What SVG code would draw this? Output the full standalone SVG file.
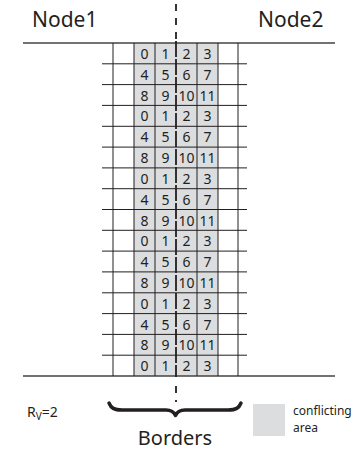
<svg xmlns="http://www.w3.org/2000/svg" width="364" height="452" viewBox="0 0 364 452">
<style>
.t{font-family:"Noto Sans","Open Sans",sans-serif;fill:#231f20}
.n{font-size:14px;text-anchor:middle}
.g{stroke:#231f20;stroke-width:1;fill:none}
.o{stroke:#444;stroke-width:1.3;fill:none}
</style>
<rect width="364" height="452" fill="#fff"/>
<g id="conflict-area"><rect x="134" y="43" width="84" height="333" fill="#dcdddf"/></g>
<g id="grid">
<path class="o" d="M23 43H335M23 376H335"/>
<path class="g" d="M102 63.8H247M102 84.6H247M102 105.4H247M102 126.3H247M102 147.1H247M102 167.9H247M102 188.7H247M102 209.5H247M102 230.3H247M102 251.1H247M102 271.9H247M102 292.8H247M102 313.6H247M102 334.4H247M102 355.2H247"/>
<path class="g" d="M113 43V376M134 43V376M155 43V376M197 43V376M218 43V376M238 43V376"/>
</g>
<g id="labels-cells" class="t n">
<text x="144.5" y="59">0</text><text x="165.5" y="59">1</text><text x="186.5" y="59">2</text><text x="207.5" y="59">3</text>
<text x="144.5" y="79.8">4</text><text x="165.5" y="79.8">5</text><text x="186.5" y="79.8">6</text><text x="207.5" y="79.8">7</text>
<text x="144.5" y="100.6">8</text><text x="165.5" y="100.6">9</text><text x="186.5" y="100.6">10</text><text x="207.5" y="100.6">11</text>
<text x="144.5" y="121.4">0</text><text x="165.5" y="121.4">1</text><text x="186.5" y="121.4">2</text><text x="207.5" y="121.4">3</text>
<text x="144.5" y="142.3">4</text><text x="165.5" y="142.3">5</text><text x="186.5" y="142.3">6</text><text x="207.5" y="142.3">7</text>
<text x="144.5" y="163.1">8</text><text x="165.5" y="163.1">9</text><text x="186.5" y="163.1">10</text><text x="207.5" y="163.1">11</text>
<text x="144.5" y="183.9">0</text><text x="165.5" y="183.9">1</text><text x="186.5" y="183.9">2</text><text x="207.5" y="183.9">3</text>
<text x="144.5" y="204.7">4</text><text x="165.5" y="204.7">5</text><text x="186.5" y="204.7">6</text><text x="207.5" y="204.7">7</text>
<text x="144.5" y="225.5">8</text><text x="165.5" y="225.5">9</text><text x="186.5" y="225.5">10</text><text x="207.5" y="225.5">11</text>
<text x="144.5" y="246.3">0</text><text x="165.5" y="246.3">1</text><text x="186.5" y="246.3">2</text><text x="207.5" y="246.3">3</text>
<text x="144.5" y="267.1">4</text><text x="165.5" y="267.1">5</text><text x="186.5" y="267.1">6</text><text x="207.5" y="267.1">7</text>
<text x="144.5" y="287.9">8</text><text x="165.5" y="287.9">9</text><text x="186.5" y="287.9">10</text><text x="207.5" y="287.9">11</text>
<text x="144.5" y="308.8">0</text><text x="165.5" y="308.8">1</text><text x="186.5" y="308.8">2</text><text x="207.5" y="308.8">3</text>
<text x="144.5" y="329.6">4</text><text x="165.5" y="329.6">5</text><text x="186.5" y="329.6">6</text><text x="207.5" y="329.6">7</text>
<text x="144.5" y="350.4">8</text><text x="165.5" y="350.4">9</text><text x="186.5" y="350.4">10</text><text x="207.5" y="350.4">11</text>
<text x="144.5" y="371.2">0</text><text x="165.5" y="371.2">1</text><text x="186.5" y="371.2">2</text><text x="207.5" y="371.2">3</text>
</g>
<g id="border-line">
<path stroke="#231f20" stroke-width="1.8" fill="none" stroke-dasharray="7 7" d="M176 4V41"/>
<path stroke="#231f20" stroke-width="1.8" fill="none" stroke-dasharray="16 2" d="M176 41V377"/>
<path stroke="#231f20" stroke-width="1.8" fill="none" d="M176 386V393M176 400V402"/>
</g>
<g id="node1"><text class="t" x="32" y="27" font-size="21">Node1</text></g>
<g id="node2"><text class="t" x="258" y="27" font-size="21">Node2</text></g>
<g id="borders">
<path d="M109 403C111 408 114 410 122 410H166C171 410 174 412 175.5 415.5C177 412 180 410 185 410H228C236 410 239 408 241 403" stroke="#231f20" stroke-width="3.5" fill="none" stroke-linecap="round" stroke-linejoin="round"/>
<text class="t" x="175" y="445" font-size="20" text-anchor="middle">Borders</text>
</g>
<g id="rv"><text class="t" x="27" y="417" font-size="14">R<tspan font-size="10" dy="3">V</tspan><tspan dy="-3">=2</tspan></text></g>
<g id="legend">
<rect x="253" y="404" width="32" height="32" fill="#dcdddf"/>
<text class="t" x="293" y="414.5" font-size="12">conflicting</text>
<text class="t" x="293" y="431.5" font-size="12">area</text>
</g>
</svg>
